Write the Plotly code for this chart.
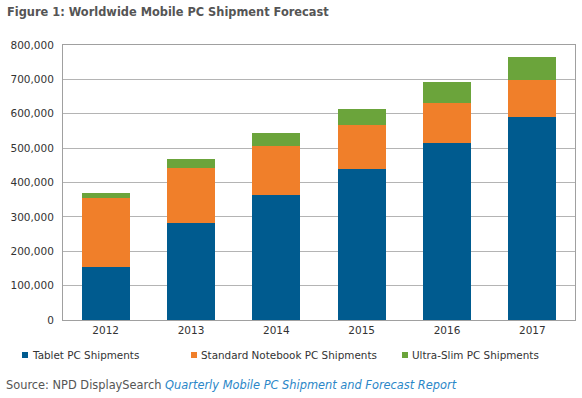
import plotly.graph_objects as go

years = ["2012", "2013", "2014", "2015", "2016", "2017"]
tablet = [154000, 282000, 364000, 439000, 515000, 590000]
notebook = [201000, 160000, 142000, 128000, 116000, 108000]
ultraslim = [14000, 26000, 38000, 47000, 61000, 67000]
series_names = ["Tablet PC Shipments", "Standard Notebook PC Shipments", "Ultra-Slim PC Shipments"]
colors = ["#005B8F", "#F07F2A", "#6BA43B"]
ytick_vals = [0, 100000, 200000, 300000, 400000, 500000, 600000, 700000, 800000]
ytick_text = ["0", "100,000", "200,000", "300,000", "400,000", "500,000", "600,000", "700,000", "800,000"]

FONT = "DejaVu Sans, Verdana, sans-serif"
L, R, T, B = 63, 7, 45, 78
W, H = 582, 398
PW, PH = W - L - R, H - T - B


def px_x(p):
    return (p - L) / PW


def px_y(p):
    return (H - B - p) / PH


fig = go.Figure()
for name, vals, col in zip(series_names, [tablet, notebook, ultraslim], colors):
    fig.add_trace(go.Bar(x=years, y=vals, name=name, showlegend=False,
                         marker=dict(color=col, line=dict(width=0))))

# manual legend (small squares + labels)
legend_x = [22, 191, 402]
shapes = []
annotations = []
for name, col, lx in zip(series_names, colors, legend_x):
    shapes.append(dict(type="rect", xref="paper", yref="paper",
                       x0=px_x(lx), x1=px_x(lx + 6), y0=px_y(358), y1=px_y(352),
                       fillcolor=col, line=dict(width=0)))
    annotations.append(dict(text=name, xref="paper", yref="paper", x=px_x(lx + 8), y=px_y(355),
                            xanchor="left", yanchor="middle", showarrow=False,
                            font=dict(family=FONT, size=10.4, color="#333333")))

annotations.append(dict(text="Source: NPD DisplaySearch <i><span style='color:#2B87C8'>Quarterly Mobile PC Shipment and Forecast Report</span></i>",
                        xref="paper", yref="paper", x=px_x(4), y=px_y(385),
                        xanchor="left", yanchor="middle", showarrow=False,
                        font=dict(family=FONT, size=11.4, color="#555555")))

fig.update_layout(
    width=W, height=H,
    barmode="stack", bargap=0.44,
    plot_bgcolor="white", paper_bgcolor="white",
    margin=dict(l=L, r=R, t=T, b=B),
    font=dict(family=FONT, size=10.5, color="#333333"),
    title=dict(text="<b>Figure 1: Worldwide Mobile PC Shipment Forecast</b>",
               x=7 / W, xanchor="left", xref="container",
               y=1 - 12 / H, yanchor="middle", yref="container",
               font=dict(family=FONT, size=11.4, color="#555555")),
    showlegend=False,
    xaxis=dict(showline=True, linecolor="#A0A0A0", mirror=True, ticks="",
               automargin=False, tickfont=dict(size=10.5, color="#333333")),
    yaxis=dict(range=[0, 800000], tickvals=ytick_vals, ticktext=ytick_text,
               showgrid=True, gridcolor="#B4B4B4", gridwidth=1,
               showline=True, linecolor="#A0A0A0", mirror=True, ticks="",
               zeroline=False, automargin=False, ticklabelstandoff=6,
               tickfont=dict(size=10.5, color="#333333")),
    shapes=shapes,
    annotations=annotations,
)

fig.write_html("out.html", config={"displayModeBar": False},
               post_script="document.body.style.margin='0';document.body.style.overflow='hidden';")
